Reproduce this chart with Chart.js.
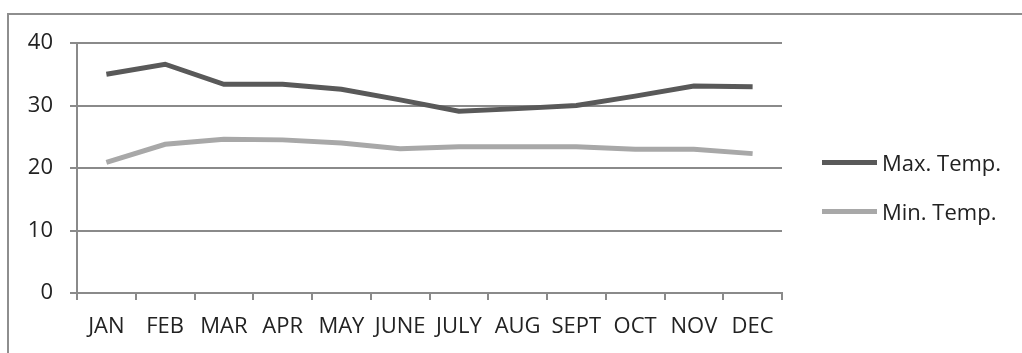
<!DOCTYPE html>
<html>
<head>
<meta charset="utf-8">
<script src="https://cdn.jsdelivr.net/npm/chart.js@4.4.1/dist/chart.umd.min.js"></script>
<style>
    html, body { margin: 0; padding: 0; background: #fff; overflow: hidden; }
    #wrap { position: relative; width: 1022px; height: 353px; }
    /* cadre extérieur du graphique */
    #frame {
        position: absolute; left: 7px; top: 13px; width: 1030px; height: 360px;
        border-top: 2px solid #8e8e8e; border-left: 2px solid #8e8e8e;
        box-sizing: border-box;
    }
    #temp-chart { position: absolute; left: 0; top: 0; }
    /* légende construite à partir des datasets */
    #legend { position: absolute; left: 822px; top: 0; font-family: "Open Sans", sans-serif; font-size: 22px; color: #222; }
    #legend .item { position: absolute; left: 0; height: 30px; display: flex; align-items: center; white-space: nowrap; }
    #legend .swatch { width: 55px; height: 5px; margin-right: 5px; }
</style>
</head>
<body>
<div id="wrap">
    <div id="frame"></div>
    <canvas id="temp-chart" width="1022" height="353"></canvas>
    <div id="legend"></div>
</div>
<script>
// Données mensuelles (°C)
const months = ['JAN', 'FEB', 'MAR', 'APR', 'MAY', 'JUNE', 'JULY', 'AUG', 'SEPT', 'OCT', 'NOV', 'DEC'];
const maxTemp = [35.0, 36.6, 33.4, 33.4, 32.6, 30.9, 29.1, 29.5, 30.0, 31.5, 33.1, 33.0];
const minTemp = [20.9, 23.8, 24.6, 24.5, 24.0, 23.1, 23.4, 23.4, 23.4, 23.0, 23.0, 22.3];
const yTicks = [0, 10, 20, 30, 40];

const colors = {
    max: '#595959',
    min: '#a8a8a8',
    grid: '#8a8a8a',
    text: '#222222'
};

const font = { family: '"Open Sans", sans-serif', size: 22 };

const ctx = document.getElementById('temp-chart');

const chart = new Chart(ctx, {
    type: 'line',
    data: {
        labels: months,
        datasets: [{
            label: 'Max. Temp.',
            data: maxTemp,
            borderColor: colors.max,
            backgroundColor: colors.max,
            borderWidth: 5,
            pointRadius: 0,
            tension: 0
        }, {
            label: 'Min. Temp.',
            data: minTemp,
            borderColor: colors.min,
            backgroundColor: colors.min,
            borderWidth: 5,
            pointRadius: 0,
            tension: 0
        }]
    },
    options: {
        responsive: false,
        animation: false,
        layout: {
            padding: { top: 43, right: 240, bottom: 0, left: 0 }
        },
        plugins: {
            tooltip: { enabled: false },
            legend: { display: false }
        },
        scales: {
            x: {
                offset: true,
                grid: {
                    offset: true,
                    drawOnChartArea: false,
                    color: colors.grid,
                    lineWidth: 2,
                    tickLength: 7
                },
                border: { color: colors.grid, width: 2 },
                ticks: {
                    font: font,
                    color: colors.text,
                    padding: 14,
                    maxRotation: 0,
                    autoSkip: false
                },
                afterFit: (scale) => { scale.height = 60; }
            },
            y: {
                min: 0,
                max: 40,
                afterBuildTicks: (scale) => {
                    scale.ticks = yTicks.map(v => ({ value: v }));
                },
                grid: {
                    color: colors.grid,
                    lineWidth: 2,
                    tickLength: 7
                },
                border: { color: colors.grid, width: 2 },
                ticks: {
                    font: font,
                    color: colors.text,
                    padding: 17
                },
                afterFit: (scale) => { scale.width = 77; }
            }
        }
    }
});

// Légende à droite : une ligne par dataset
const legendEl = document.getElementById('legend');
const legendRows = [162, 211];
chart.data.datasets.forEach((ds, i) => {
    const item = document.createElement('div');
    item.className = 'item';
    item.style.top = (legendRows[i] - 15) + 'px';
    const swatch = document.createElement('span');
    swatch.className = 'swatch';
    swatch.style.background = ds.borderColor;
    const label = document.createElement('span');
    label.textContent = ds.label;
    item.appendChild(swatch);
    item.appendChild(label);
    legendEl.appendChild(item);
});
</script>
</body>
</html>
